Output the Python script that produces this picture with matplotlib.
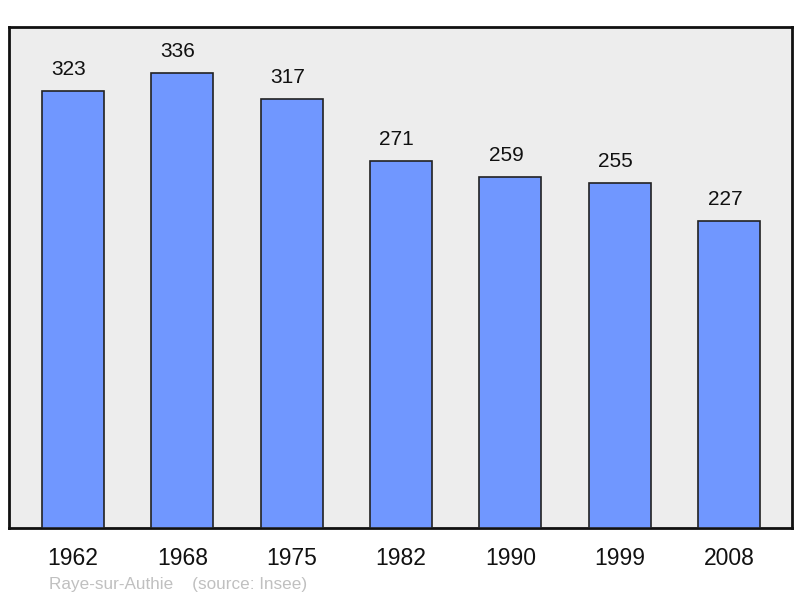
import matplotlib
matplotlib.use("Agg")
import matplotlib.pyplot as plt

years = ["1962", "1968", "1975", "1982", "1990", "1999", "2008"]
population = [323, 336, 317, 271, 259, 255, 227]
footer = "Raye-sur-Authie    (source: Insee)"

plt.rcParams['font.family'] = ['Liberation Sans', 'DejaVu Sans']

fig = plt.figure(figsize=(8, 5.98), dpi=100)
ax = fig.add_axes([9/800, 70/598, 783/800, 501/598])
ax.set_facecolor('#ededed')

x = list(range(len(years)))
ax.bar(x, population, width=0.567, color='#7097ff', edgecolor='#222222', linewidth=1.2, zorder=3)
for xi, v in zip(x, population):
    ax.annotate(str(v), (xi, v), xytext=(-3, 8.5), textcoords='offset points',
                ha='center', va='bottom', fontsize=15, color='#111111')

ax.set_xlim(-0.585, 6.576)
ax.set_ylim(0, 370)
ax.set_yticks([])
ax.set_xticks(x)
ax.set_xticklabels(years, fontsize=16.5, color='#111111')
ax.tick_params(axis='x', length=0, pad=14)
for s in ax.spines.values():
    s.set_linewidth(2)
    s.set_color('#111111')

fig.text(49/800, 1 - 589/598, footer, fontsize=12.3, color='#c0c0c0', va='baseline', ha='left')

fig.savefig('out.png', dpi=100)
